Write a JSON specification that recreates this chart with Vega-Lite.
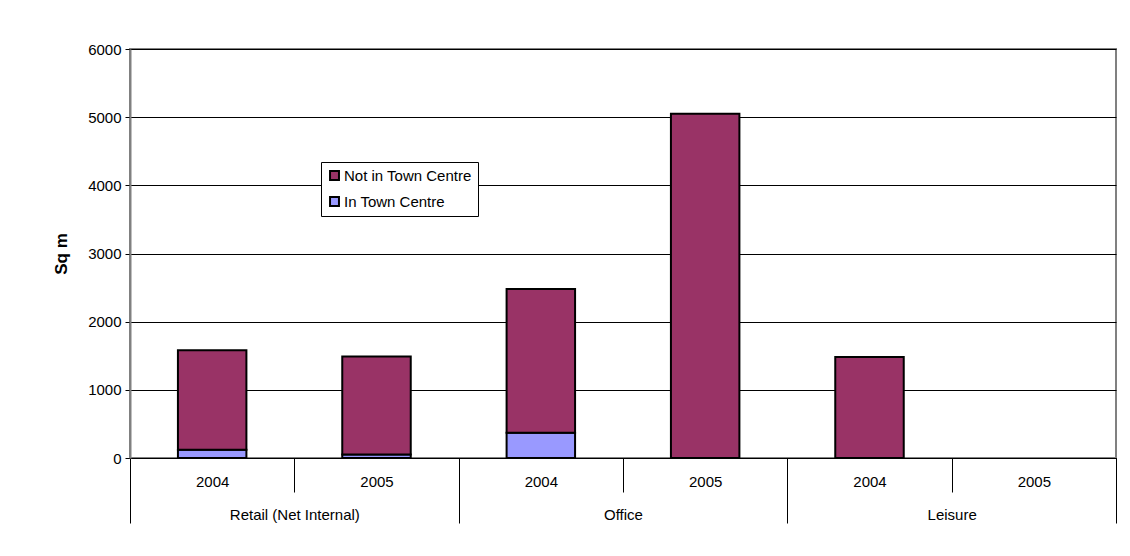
{
  "$schema": "https://vega.github.io/schema/vega-lite/v6.json",
  "width": 986,
  "height": 409,
  "autosize": {"type": "none"},
  "padding": {"left": 130, "top": 49, "right": 14, "bottom": 98},
  "background": "white",
  "config": {
    "font": "Liberation Sans",
    "view": {"stroke": "#808080", "strokeWidth": 2}
  },
  "data": {
    "values": [
      {"group": "Retail (Net Internal)", "year": "2004", "key": "Retail (Net Internal)|2004", "series": "In Town Centre", "ord": 1, "value": 120},
      {"group": "Retail (Net Internal)", "year": "2004", "key": "Retail (Net Internal)|2004", "series": "Not in Town Centre", "ord": 2, "value": 1460},
      {"group": "Retail (Net Internal)", "year": "2005", "key": "Retail (Net Internal)|2005", "series": "In Town Centre", "ord": 1, "value": 50},
      {"group": "Retail (Net Internal)", "year": "2005", "key": "Retail (Net Internal)|2005", "series": "Not in Town Centre", "ord": 2, "value": 1440},
      {"group": "Office", "year": "2004", "key": "Office|2004", "series": "In Town Centre", "ord": 1, "value": 370},
      {"group": "Office", "year": "2004", "key": "Office|2004", "series": "Not in Town Centre", "ord": 2, "value": 2110},
      {"group": "Office", "year": "2005", "key": "Office|2005", "series": "In Town Centre", "ord": 1, "value": 0},
      {"group": "Office", "year": "2005", "key": "Office|2005", "series": "Not in Town Centre", "ord": 2, "value": 5050},
      {"group": "Leisure", "year": "2004", "key": "Leisure|2004", "series": "In Town Centre", "ord": 1, "value": 0},
      {"group": "Leisure", "year": "2004", "key": "Leisure|2004", "series": "Not in Town Centre", "ord": 2, "value": 1480},
      {"group": "Leisure", "year": "2005", "key": "Leisure|2005", "series": "In Town Centre", "ord": 1, "value": 0},
      {"group": "Leisure", "year": "2005", "key": "Leisure|2005", "series": "Not in Town Centre", "ord": 2, "value": 0}
    ]
  },
  "layer": [
    {
      "mark": {"type": "bar", "stroke": "black", "strokeWidth": 2, "width": {"band": 0.4167}},
      "encoding": {
        "x": {
          "field": "key",
          "type": "nominal",
          "sort": ["Retail (Net Internal)|2004", "Retail (Net Internal)|2005", "Office|2004", "Office|2005", "Leisure|2004", "Leisure|2005"],
          "scale": {"paddingInner": 0, "paddingOuter": 0},
          "axis": {
            "title": null,
            "labelExpr": "split(datum.value, '|')[1]",
            "labelAngle": 0,
            "labelFontSize": 15,
            "labelColor": "black",
            "labelPadding": -18,
            "tickBand": "extent",
            "tickSize": 34,
            "tickColor": "black",
            "tickWidth": 1,
            "domainColor": "black",
            "domainWidth": 1,
            "grid": false
          }
        },
        "y": {
          "field": "value",
          "type": "quantitative",
          "stack": "zero",
          "scale": {"domain": [0, 6000], "nice": false},
          "axis": {
            "title": "Sq m",
            "titleFontSize": 17,
            "titleFontWeight": "bold",
            "titleColor": "black",
            "titlePadding": 17,
            "values": [0, 1000, 2000, 3000, 4000, 5000, 6000],
            "format": "d",
            "labelFontSize": 15,
            "labelColor": "black",
            "labelPadding": 4,
            "tickSize": 5,
            "tickColor": "black",
            "domainColor": "#808080",
            "domainWidth": 2,
            "grid": true,
            "gridColor": "black",
            "gridWidth": 1
          }
        },
        "color": {
          "field": "series",
          "type": "nominal",
          "scale": {"domain": ["Not in Town Centre", "In Town Centre"], "range": ["#993366", "#9999FF"]},
          "legend": {
            "title": null,
            "orient": "none",
            "legendX": 191,
            "legendY": 113,
            "strokeColor": "black",
            "fillColor": "white",
            "padding": 6,
            "labelFontSize": 15,
            "labelColor": "black",
            "labelOffset": 2,
            "symbolType": "square",
            "symbolSize": 80,
            "symbolStrokeColor": "black",
            "symbolStrokeWidth": 2,
            "rowPadding": 9
          }
        },
        "opacity": {
          "condition": {"test": "datum.value > 0", "value": 1},
          "value": 0
        },
        "order": {"field": "ord", "type": "quantitative"}
      }
    },
    {
      "mark": {"type": "bar", "opacity": 0},
      "encoding": {
        "x": {
          "field": "group",
          "type": "nominal",
          "sort": ["Retail (Net Internal)", "Office", "Leisure"],
          "scale": {"paddingInner": 0, "paddingOuter": 0},
          "axis": {
            "orient": "bottom",
            "title": null,
            "labelAngle": 0,
            "labelFontSize": 15,
            "labelColor": "black",
            "labelPadding": -16,
            "tickBand": "extent",
            "tickSize": 65,
            "tickColor": "black",
            "tickWidth": 1,
            "domain": false,
            "grid": false
          }
        },
        "y": {"field": "value", "type": "quantitative", "stack": null}
      }
    }
  ],
  "resolve": {"scale": {"x": "independent"}, "axis": {"x": "independent"}}
}
